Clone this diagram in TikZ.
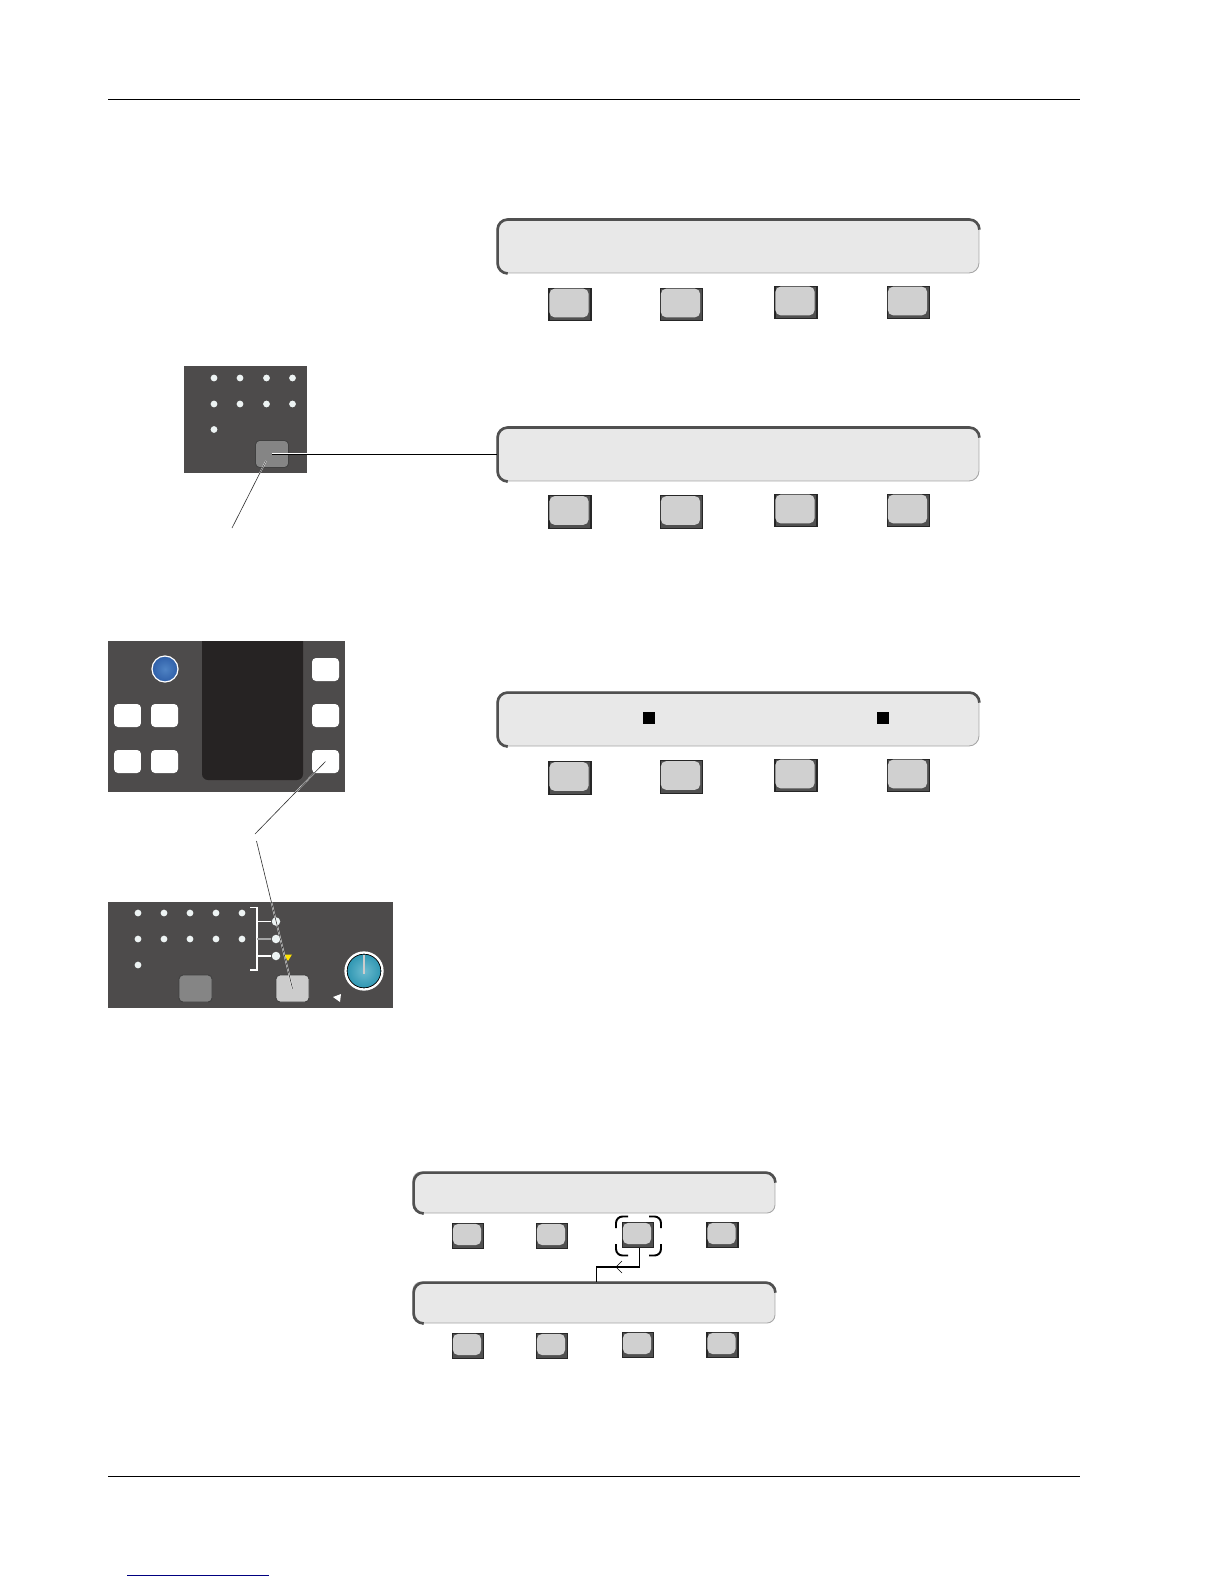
\documentclass[tikz,border=0pt]{standalone}
\usetikzlibrary{calc}

\definecolor{panelgrey}{HTML}{4D4B4B}
\definecolor{screendark}{HTML}{262323}
\definecolor{facegrey}{HTML}{D0D0D0}
\definecolor{edgegrey}{HTML}{505050}
\definecolor{lcdgrey}{HTML}{E8E8E8}
\definecolor{dotwhite}{HTML}{EDF3F3}
\definecolor{padgrey}{HTML}{858585}
\definecolor{padlight}{HTML}{CCCCCC}
\definecolor{bluecore}{HTML}{4F83C4}
\definecolor{blueedge}{HTML}{2F5FA8}
\definecolor{tealcore}{HTML}{6CBBCF}
\definecolor{tealedge}{HTML}{2F96B2}

\tikzset{
  panel/.style={fill=panelgrey, draw=none},
  softkey/.style={draw=black!85, line width=0.6pt, fill=edgegrey, inner sep=0pt, minimum width=.84cm, minimum height=.65cm},
  softkeyS/.style={softkey, minimum width=.62cm, minimum height=.5cm},
  lcd/.style={draw=black!35, line width=0.5pt, fill=lcdgrey, rounded corners=.2cm, inner sep=0pt, minimum width=9.64cm, minimum height=1.08cm},
  lcdS/.style={lcd, rounded corners=.16cm, minimum width=7.24cm, minimum height=.82cm},
  whitekey/.style={fill=white, rounded corners=.08cm, inner sep=0pt, minimum width=.54cm, minimum height=.46cm},
  pad/.style={draw=black!75, line width=0.5pt, rounded corners=.08cm, inner sep=0pt, minimum width=.66cm, minimum height=.54cm},
  led/.style={circle, fill=dotwhite, inner sep=0pt, minimum size=.135cm},
  leader/.style={draw=black!80, line width=0.35pt, preaction={draw=white, line width=0.8pt}},
  cornermark/.style={line width=1.1pt, rounded corners=.13cm},
}

% softkey: dark frame and a lighter raised face
\newcommand{\softkey}[4][softkey]{
  \node[#1] (#2) at (#3,#4) {};
  \fill[facegrey, rounded corners=.1cm] ($(#2.north west)+(1,1)$) rectangle ($(#2.south east)+(-3,-4)$);
}
% display: heavy edge on the left and the top, running into the corners
\newcommand{\display}[4][lcd]{
  \node[#1] (#2) at (#3,#4) {};
  \draw[edgegrey, line width=1.5pt, rounded corners=.2cm] ($(#2.south west)+(10,0)$) -- ($(#2.south west)+(1,0)$) -- ($(#2.north west)+(1,1)$) -- ($(#2.north east)+(0,1)$) -- ($(#2.north east)+(0,10)$);
}

\begin{document}
\begin{tikzpicture}[x=.02cm, y=-.02cm]
  \useasboundingbox (0,0) rectangle (1224,1584);

  % rules
  \coordinate (ruleTL) at (108,99.5);
  \coordinate (ruleTR) at (1080,99.5);
  \coordinate (ruleBL) at (108,1476);
  \coordinate (ruleBR) at (1080,1476);
  \draw[line width=0.5pt] (ruleTL) -- (ruleTR);
  \draw[line width=0.5pt] (ruleBL) -- (ruleBR);
  \draw[blue!50!black, line width=0.5pt] (127,1575) -- (269,1575);

  % upper displays
  \display{lcdA}{738}{246}
  \softkey{keyA1}{570}{304.5}
  \softkey{keyA2}{681.5}{304.5}
  \softkey{keyA3}{796}{302.5}
  \softkey{keyA4}{908.5}{302.5}

  \display{lcdB}{738}{454}
  \softkey{keyB1}{570}{512}
  \softkey{keyB2}{681.5}{512}
  \softkey{keyB3}{796}{510.5}
  \softkey{keyB4}{908.5}{510.5}

  \display{lcdC}{738}{719}
  \node[fill=black, inner sep=0pt, minimum size=.24cm] (markA) at (649,718) {};
  \node[fill=black, inner sep=0pt, minimum size=.24cm] (markB) at (883,718) {};
  \softkey{keyC1}{570}{778}
  \softkey{keyC2}{681.5}{777}
  \softkey{keyC3}{796}{775.5}
  \softkey{keyC4}{908.5}{775.5}

  % panel with the single pad
  \fill[panel] (184,366) rectangle (307,473);
  \foreach \x in {214,240,266.5,292.5}
    \foreach \y in {378,404}
      \node[led] at (\x,\y) {};
  \node[led] (ledA) at (214,429.5) {};
  \node[pad, fill=padgrey] (padA) at (272,454) {};
  \coordinate (padAend) at (232,528);
  \coordinate (panelAedge) at (307,454);
  \draw[white, line width=0.9pt] (padA.center) -- (panelAedge);
  \draw[line width=0.45pt] (padA.center) -- (lcdB.west);
  \draw[leader] ($(padA.center)+(-6,7)$) -- (padAend);

  % panel with the screen
  \fill[panel] (108,641) rectangle (345,792);
  \fill[screendark, rounded corners=.12cm] (202,630) rectangle (303,780);
  \fill[white] (100,630) rectangle (360,641);
  \shade[inner color=bluecore, outer color=blueedge, draw=white, line width=0.7pt] (165,669) circle (13);
  \node[whitekey] (keyL1) at (127.5,715.5) {};
  \node[whitekey] (keyL2) at (164.5,715.5) {};
  \node[whitekey] (keyL3) at (127.5,761.5) {};
  \node[whitekey] (keyL4) at (164.5,761.5) {};
  \node[whitekey] (keyR1) at (325.5,669.5) {};
  \node[whitekey] (keyR2) at (325.5,715.5) {};
  \node[whitekey] (keyR3) at (325.5,761.5) {};

  % panel with the knob
  \fill[panel] (108,902) rectangle (393,1008);
  \foreach \x in {138,164,190,216,242}
    \foreach \y in {913,939}
      \node[led] at (\x,\y) {};
  \node[led] (ledB) at (138,965) {};
  \draw[white, line width=0.6pt] (250,907.5) -- (257,907.5) -- (257,970) -- (250,970);
  \node[led, minimum size=.17cm] (ledC) at (276,921.5) {};
  \node[led, minimum size=.17cm] (ledD) at (276,939) {};
  \node[led, minimum size=.17cm] (ledE) at (276,956) {};
  \draw[white, line width=0.7pt] (257,921.5) -- (ledC);
  \draw[black!35, line width=0.7pt] (257,939) -- (ledD);
  \draw[white, line width=0.9pt] (257,956) -- (ledE);
  \fill[yellow!85!orange] (284,954.5) -- (292,954.5) -- (288,961) -- cycle;
  \node[pad, fill=padgrey] (padB) at (195.5,988.5) {};
  \node[pad, fill=padlight] (padC) at (292.5,988.5) {};
  \fill[white] (333,997) -- (341,994) -- (340,1002) -- cycle;
  \shade[inner color=tealcore, outer color=tealedge, draw=black, line width=0.6pt] (364,971) circle (17);
  \draw[white, line width=1.3pt] (364,971) circle (18.5);
  \draw[black!20, line width=1.6pt] (364,955) -- (364,974);

  % leaders to the white keys
  \coordinate (keyRend) at (255,834);
  \coordinate (padCend) at (256.5,841);
  \draw[leader] (keyR3.center) -- (keyRend);
  \draw[leader] (padCend) -- (padC.center);

  % lower displays
  \display[lcdS]{lcdD}{594}{1192.5}
  \softkey[softkeyS]{keyD1}{468}{1236}
  \softkey[softkeyS]{keyD2}{552}{1236}
  \softkey[softkeyS]{keyD3}{638}{1235}
  \softkey[softkeyS]{keyD4}{722.5}{1235}

  \display[lcdS]{lcdE}{594}{1302.5}
  \softkey[softkeyS]{keyE1}{468}{1346}
  \softkey[softkeyS]{keyE2}{552}{1346}
  \softkey[softkeyS]{keyE3}{638}{1345}
  \softkey[softkeyS]{keyE4}{722.5}{1345}

  % corner marks round the selected key
  \draw[cornermark] (628,1216.5) -- (616,1216.5) -- (616,1228);
  \draw[cornermark] (649,1216.5) -- (661,1216.5) -- (661,1228);
  \draw[cornermark] (628,1255.5) -- (616,1255.5) -- (616,1244);
  \draw[cornermark] (649,1255.5) -- (661,1255.5) -- (661,1244);

  % connector down to the next display
  \coordinate (keyDout) at (639.5,1248);
  \coordinate (lcdEin) at (596.5,1282);
  \draw[line width=0.6pt] (keyDout) -- (639.5,1267) -- (596.5,1267) -- (lcdEin);
  \draw[line width=0.3pt] (622,1261) -- (616,1267) -- (622,1273);
\end{tikzpicture}
\end{document}
